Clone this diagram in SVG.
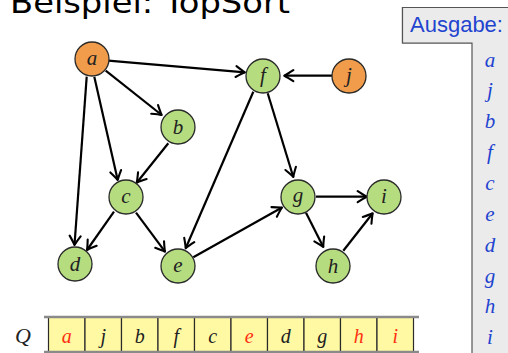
<svg xmlns="http://www.w3.org/2000/svg" width="508" height="353" viewBox="0 0 508 353">
<defs>
<style>
.node circle{stroke:#2a2a2a;stroke-width:1.3}
.g circle{fill:#b6dc80}
.o circle{fill:#f09c4a}
.lbl{font-family:"Liberation Serif","Times New Roman",serif;font-style:italic;font-size:21px;fill:#222;text-anchor:middle}
.edge{stroke:#000;stroke-width:2.2;fill:none;marker-end:url(#ah)}
.q{font-family:"Liberation Serif",serif;font-style:italic;font-size:20px;text-anchor:middle}
.out{font-family:"Liberation Serif",serif;font-style:italic;font-size:21px;fill:#1f44d0;text-anchor:middle}
.cell{fill:#fff9a3;stroke:#2a2a2a;stroke-width:1.2}
</style>
<marker id="ah" viewBox="-12 -7 14 14" refX="0" refY="0" markerWidth="14" markerHeight="14" markerUnits="userSpaceOnUse" orient="auto">
<path d="M-9,-5.5 Q-3,-1.5 0,0 Q-3,1.5 -9,5.5" fill="none" stroke="#000" stroke-width="2.1" stroke-linecap="round" stroke-linejoin="round"/>
</marker>
</defs>
<rect width="508" height="353" fill="#fff"/>
<text x="10" y="13" font-family="DejaVu Sans, sans-serif" font-size="30" textLength="280" lengthAdjust="spacingAndGlyphs" fill="#000">Beispiel: TopSort</text>

<g id="connectors">
<line class="edge" x1="108.3" y1="60.7" x2="245" y2="72.3"/>
<line class="edge" x1="105.7" y1="70.7" x2="161.7" y2="115"/>
<line class="edge" x1="94.3" y1="76.7" x2="117.7" y2="180"/>
<line class="edge" x1="86.7" y1="76.7" x2="74.5" y2="245"/>
<line class="edge" x1="168.3" y1="143.3" x2="136.7" y2="182.7"/>
<line class="edge" x1="114" y1="211.7" x2="87" y2="250"/>
<line class="edge" x1="136" y1="212.7" x2="165" y2="251.7"/>
<line class="edge" x1="253.3" y1="91.7" x2="185.7" y2="248.3"/>
<line class="edge" x1="193.3" y1="257.3" x2="282" y2="207.5"/>
<line class="edge" x1="332" y1="75.7" x2="284.3" y2="75.7"/>
<line class="edge" x1="267.7" y1="93.3" x2="293.3" y2="177"/>
<line class="edge" x1="316" y1="196.7" x2="366.7" y2="196.7"/>
<line class="edge" x1="306" y1="212.7" x2="323.3" y2="247"/>
<line class="edge" x1="343.3" y1="250.7" x2="372.7" y2="213.3"/>
</g>

<g id="a" class="node o"><circle cx="92" cy="59" r="17"/><text class="lbl" x="92" y="65">a</text></g>
<g id="b" class="node g"><circle cx="178" cy="127" r="17"/><text class="lbl" x="178" y="134">b</text></g>
<g id="c" class="node g"><circle cx="126" cy="197" r="17"/><text class="lbl" x="126" y="203">c</text></g>
<g id="d" class="node g"><circle cx="75" cy="264" r="17"/><text class="lbl" x="75" y="271">d</text></g>
<g id="e" class="node g"><circle cx="178" cy="266" r="17"/><text class="lbl" x="178" y="272">e</text></g>
<g id="f" class="node g"><circle cx="263" cy="76" r="17"/><text class="lbl" x="263" y="82">f</text></g>
<g id="j" class="node o"><circle cx="349" cy="76" r="17"/><text class="lbl" x="349" y="82">j</text></g>
<g id="g" class="node g"><circle cx="298" cy="197" r="17"/><text class="lbl" x="298" y="202">g</text></g>
<g id="i" class="node g"><circle cx="384" cy="197" r="17"/><text class="lbl" x="384" y="203">i</text></g>
<g id="h" class="node g"><circle cx="333" cy="266" r="17"/><text class="lbl" x="333" y="273">h</text></g>

<g id="queue">
<text x="23" y="343" font-family="Liberation Serif,serif" font-style="italic" font-size="22" fill="#222" text-anchor="middle">Q</text>
<rect class="cell" x="48.5" y="317" width="36.5" height="40"/>
<rect class="cell" x="85" y="317" width="36.5" height="40"/>
<rect class="cell" x="121.5" y="317" width="36.5" height="40"/>
<rect class="cell" x="158" y="317" width="36.5" height="40"/>
<rect class="cell" x="194.5" y="317" width="36.5" height="40"/>
<rect class="cell" x="231" y="317" width="36.5" height="40"/>
<rect class="cell" x="267.5" y="317" width="36.5" height="40"/>
<rect class="cell" x="304" y="317" width="36.5" height="40"/>
<rect class="cell" x="340.5" y="317" width="36.5" height="40"/>
<rect class="cell" x="377" y="317" width="36.5" height="40"/>
<line x1="44" y1="317" x2="419" y2="317" stroke="#8a8a8a" stroke-width="2.5"/>
<line x1="44" y1="352" x2="419" y2="352" stroke="#8a8a8a" stroke-width="2.5"/>
<text class="q" x="66.8" y="343" fill="#ff3010">a</text>
<text class="q" x="103.3" y="343" fill="#222">j</text>
<text class="q" x="139.8" y="343" fill="#222">b</text>
<text class="q" x="176.3" y="343" fill="#222">f</text>
<text class="q" x="212.8" y="343" fill="#222">c</text>
<text class="q" x="249.3" y="343" fill="#ff3010">e</text>
<text class="q" x="285.8" y="343" fill="#222">d</text>
<text class="q" x="322.3" y="343" fill="#222">g</text>
<text class="q" x="358.8" y="343" fill="#ff3010">h</text>
<text class="q" x="395.3" y="343" fill="#ff3010">i</text>
</g>

<g id="ausgabe">
<path d="M472,43 H402.5 V7.5 H510" fill="#ebebeb" stroke="#555" stroke-width="1.2"/>
<rect x="472" y="43" width="40" height="315" fill="#ebebeb"/>
<rect x="402.5" y="7.5" width="110" height="35.5" fill="#ebebeb"/>
<path d="M510,7.5 H402.5 V43 H472 V355" fill="none" stroke="#555" stroke-width="1.2"/>
<text x="410" y="32" font-family="Liberation Sans,Arial,sans-serif" font-size="22" fill="#1f44d0">Ausgabe:</text>
<text class="out" x="490" y="66.5">a</text>
<text class="out" x="490" y="97">j</text>
<text class="out" x="490" y="128">b</text>
<text class="out" x="490" y="159">f</text>
<text class="out" x="490" y="190">c</text>
<text class="out" x="490" y="221">e</text>
<text class="out" x="490" y="251.5">d</text>
<text class="out" x="490" y="282.5">g</text>
<text class="out" x="490" y="313">h</text>
<text class="out" x="490" y="344">i</text>
</g>
</svg>
